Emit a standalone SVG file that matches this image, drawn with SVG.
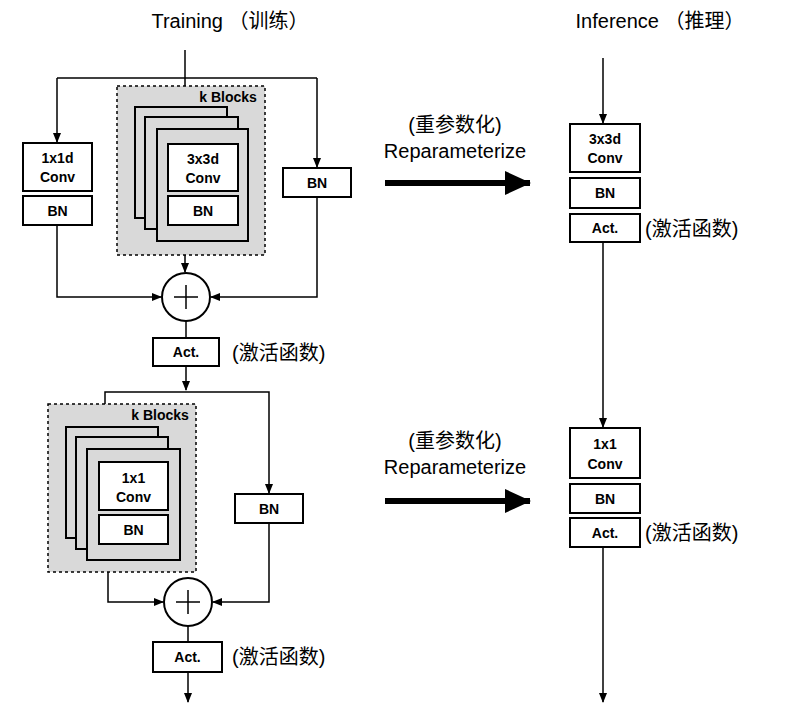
<svg xmlns="http://www.w3.org/2000/svg" width="790" height="713" viewBox="0 0 790 713">
<defs>
<marker id="ah" markerWidth="10" markerHeight="10" refX="9" refY="5" orient="auto" markerUnits="userSpaceOnUse"><path d="M0,1 L10,5 L0,9 Z" fill="#000"/></marker>
<marker id="big" markerWidth="26" markerHeight="24" refX="25" refY="12" orient="auto" markerUnits="userSpaceOnUse"><path d="M0,0 L26,12 L0,24 Z" fill="#000"/></marker>
</defs>
<style>
.b{fill:#fff;stroke:#000;stroke-width:2}
.g{fill:#d9d9d9;stroke:#000;stroke-width:2}
.d{fill:#d9d9d9;stroke:#000;stroke-width:1.5;stroke-dasharray:3,3}
.t{font-family:"Liberation Sans",Arial,sans-serif;font-weight:bold;font-size:14px;text-anchor:middle;fill:#000}
.l{font-family:"Liberation Sans","Noto Sans CJK SC",sans-serif;font-size:20px;fill:#000}
.c{fill:none;stroke:#000;stroke-width:1.5}
</style>
<text class="l" x="230" y="28" text-anchor="middle">Training （训练）</text>
<text class="l" x="660" y="28" text-anchor="middle">Inference （推理）</text>
<g id="connectors" class="c">
<path d="M185,50 V105" marker-end="url(#ah)"/>
<path d="M57,78 H317" />
<path d="M57,78 V142" marker-end="url(#ah)"/>
<path d="M317,78 V167" marker-end="url(#ah)"/>
<path d="M185,241 V272" marker-end="url(#ah)"/>
<path d="M57,225 V297 H161" marker-end="url(#ah)"/>
<path d="M317,198 V297 H211" marker-end="url(#ah)"/>
<path d="M186,321 V338"/>
<path d="M186,366 V390" marker-end="url(#ah)"/>
<path d="M105,404 V392 H269 V493" marker-end="url(#ah)"/>
<path d="M108,572 V602 H163" marker-end="url(#ah)"/>
<path d="M269,523 V602 H213" marker-end="url(#ah)"/>
<path d="M188,626 V642"/>
<path d="M188,672 V702" marker-end="url(#ah)"/>
<path d="M603,58 V123" marker-end="url(#ah)"/>
<path d="M603,242 V427" marker-end="url(#ah)"/>
<path d="M603,547 V702" marker-end="url(#ah)"/>
<path d="M385,183 H530" stroke-width="6" marker-end="url(#big)"/>
<path d="M385,501 H530" stroke-width="6" marker-end="url(#big)"/>
</g>
<g id="b1x1d"><rect class="b" x="23" y="143" width="69" height="48"/><text class="t" x="57.5" y="163">1x1d</text><text class="t" x="57.5" y="182">Conv</text>
<rect class="b" x="23" y="196" width="69" height="29"/><text class="t" x="57.5" y="216">BN</text></g>
<g id="kblocks1"><rect class="d" x="117" y="86" width="148" height="169"/>
<text class="t" x="228" y="102">k Blocks</text>
<rect class="g" x="135" y="107" width="92" height="111"/>
<rect class="g" x="145" y="117" width="93" height="112"/>
<rect class="g" x="157" y="129" width="91" height="112"/>
<rect class="b" x="168" y="144" width="70" height="47"/><text class="t" x="203" y="164">3x3d</text><text class="t" x="203" y="183">Conv</text>
<rect class="b" x="168" y="196" width="70" height="29"/><text class="t" x="203" y="216">BN</text></g>
<g id="bn1"><rect class="b" x="283" y="168" width="68" height="29"/><text class="t" x="317" y="188">BN</text></g>
<g id="add1"><circle class="b" cx="186" cy="297" r="24"/><path d="M174,297 H198 M186,285 V309" stroke="#000" stroke-width="1.5"/></g>
<g id="act1"><rect class="b" x="153" y="338" width="66" height="28"/><text class="t" x="186" y="357">Act.</text>
<text class="l" x="232" y="360">(激活函数)</text></g>
<g id="kblocks2"><rect class="d" x="48" y="404" width="148" height="168"/>
<text class="t" x="160" y="420">k Blocks</text>
<rect class="g" x="66" y="427" width="92" height="111"/>
<rect class="g" x="76" y="437" width="92" height="112"/>
<rect class="g" x="87" y="449" width="93" height="111"/>
<rect class="b" x="99" y="462" width="69" height="48"/><text class="t" x="133.5" y="483">1x1</text><text class="t" x="133.5" y="502">Conv</text>
<rect class="b" x="99" y="515" width="69" height="29"/><text class="t" x="133.5" y="535">BN</text></g>
<g id="bn2"><rect class="b" x="235" y="494" width="68" height="29"/><text class="t" x="269" y="514">BN</text></g>
<g id="add2"><circle class="b" cx="188" cy="602" r="24"/><path d="M176,602 H200 M188,590 V614" stroke="#000" stroke-width="1.5"/></g>
<g id="act2"><rect class="b" x="153" y="642" width="69" height="30"/><text class="t" x="187.5" y="662">Act.</text>
<text class="l" x="232" y="664">(激活函数)</text></g>
<g id="rep1"><text class="l" x="455" y="132" text-anchor="middle">(重参数化)</text><text class="l" x="455" y="158" text-anchor="middle" font-size="17">Reparameterize</text></g>
<g id="rep2"><text class="l" x="455" y="448" text-anchor="middle">(重参数化)</text><text class="l" x="455" y="474" text-anchor="middle" font-size="17">Reparameterize</text></g>
<g id="inf1"><rect class="b" x="570" y="124" width="70" height="48"/><text class="t" x="605" y="144">3x3d</text><text class="t" x="605" y="163">Conv</text>
<rect class="b" x="570" y="178" width="70" height="30"/><text class="t" x="605" y="198">BN</text>
<rect class="b" x="570" y="214" width="70" height="28"/><text class="t" x="605" y="233">Act.</text>
<text class="l" x="645" y="236">(激活函数)</text></g>
<g id="inf2"><rect class="b" x="570" y="428" width="70" height="50"/><text class="t" x="605" y="449">1x1</text><text class="t" x="605" y="469">Conv</text>
<rect class="b" x="570" y="484" width="70" height="29"/><text class="t" x="605" y="504">BN</text>
<rect class="b" x="570" y="518" width="70" height="29"/><text class="t" x="605" y="538">Act.</text>
<text class="l" x="645" y="540">(激活函数)</text></g>
</svg>
